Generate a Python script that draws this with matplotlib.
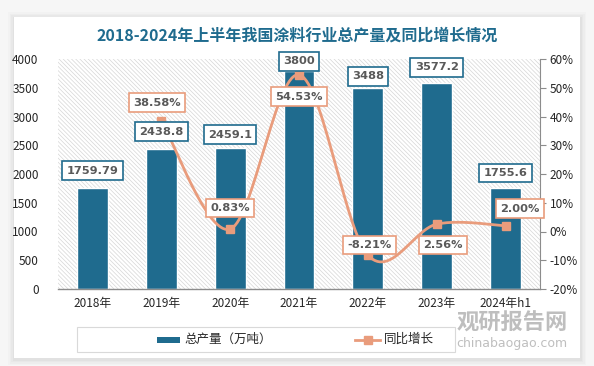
import numpy as np
import matplotlib
matplotlib.use("Agg")
import matplotlib.pyplot as plt
from matplotlib.patches import Rectangle
from matplotlib.lines import Line2D

plt.rcParams['font.family'] = ['Noto Sans CJK SC', 'DejaVu Sans']
plt.rcParams['hatch.linewidth'] = 0.5

categories = ['2018年', '2019年', '2020年', '2021年', '2022年', '2023年', '2024年h1']
production = [1759.79, 2438.8, 2459.1, 3800, 3488, 3577.2, 1755.6]
prod_labels = ['1759.79', '2438.8', '2459.1', '3800', '3488', '3577.2', '1755.6']
growth = [None, 38.58, 0.83, 54.53, -8.21, 2.56, 2.00]
growth_labels = ['', '38.58%', '0.83%', '54.53%', '-8.21%', '2.56%', '2.00%']
left_ticks = [0, 500, 1000, 1500, 2000, 2500, 3000, 3500, 4000]
right_ticks = [-20, -10, 0, 10, 20, 30, 40, 50, 60]
series_names = ['总产量（万吨）', '同比增长']

BAR = '#1F6B8E'
LINE = '#E99C7C'
TXT = '#595959'
TITLE = '#1F6B8E'

W, H = 594, 366
fig = plt.figure(figsize=(W / 100, H / 100), dpi=100)
fig.patch.set_facecolor('#F6F6F6')


def frect(x0, y0, w, h, **kw):
    """rectangle in figure pixels measured from top-left"""
    r = Rectangle((x0 / W, 1 - (y0 + h) / H), w / W, h / H, transform=fig.transFigure, **kw)
    fig.patches.append(r)
    return r


# card with soft shadow
for i, a in enumerate([0.04, 0.05, 0.06, 0.08]):
    d = (4 - i) * 1.5
    frect(14 - d, 17 - d + 1, 566 + 2 * d, 341 + 2 * d, facecolor='#9A9A9A', alpha=a,
          edgecolor='none', zorder=-5)
frect(14, 17, 566, 341, facecolor='white', edgecolor='none', zorder=-4)

ax = fig.add_axes([58 / W, 1 - 289 / H, 482 / W, 230 / H])
ax.patch.set_alpha(0)
x = np.arange(len(categories))
ax.set_xlim(-0.5, len(categories) - 0.5)
ax.set_ylim(0, 4000)

# hatched plot background
ax.add_patch(Rectangle((0, 0), 1, 1, transform=ax.transAxes, facecolor='white',
                       edgecolor='#D6D6D6', hatch='\\' * 8, linewidth=0, zorder=0))

ax.bar(x, production, width=0.45, color=BAR, edgecolor='white', linewidth=1.0, zorder=2)

for s in ['top', 'right', 'left']:
    ax.spines[s].set_visible(False)
ax.spines['bottom'].set_color('#8C8C8C')
ax.spines['bottom'].set_linewidth(1.0)
ax.set_xticks(x)
ax.set_xticklabels(categories, fontsize=8.5, color='#262626')
ax.tick_params(axis='x', length=0, pad=6)
ax.set_yticks(left_ticks)
ax.set_yticklabels([str(t) for t in left_ticks], fontsize=8.5, color='#262626')
ax.tick_params(axis='y', length=0, pad=14)

ax2 = ax.twinx()
ax2.set_ylim(-20, 60)
for s in ['top', 'left', 'bottom']:
    ax2.spines[s].set_visible(False)
ax2.spines['right'].set_color('#8C8C8C')
ax2.set_yticks(right_ticks)
ax2.set_yticklabels([f'{t}%' for t in right_ticks], fontsize=8.5, color='#262626')
ax2.tick_params(axis='y', length=4, color='#8C8C8C', pad=3, direction='out')

# smooth curve (Catmull-Rom rendering between data points)
gx = np.array([i for i, g in enumerate(growth) if g is not None], dtype=float)
gy = np.array([g for g in growth if g is not None], dtype=float)


def catmull(px, py, n=30):
    P = np.column_stack([px, py])
    P = np.vstack([P[0], P, P[-1]])
    out = []
    for i in range(1, len(P) - 2):
        p0, p1, p2, p3 = P[i - 1], P[i], P[i + 1], P[i + 2]
        t = np.linspace(0, 1, n)[:, None]
        c1 = p1 + (p2 - p0) / 6
        c2 = p2 - (p3 - p1) / 6
        seg = ((1 - t) ** 3) * p1 + 3 * ((1 - t) ** 2) * t * c1 + 3 * (1 - t) * t ** 2 * c2 + t ** 3 * p2
        out.append(seg)
    out = np.vstack(out)
    return out[:, 0], out[:, 1]


sx, sy = catmull(gx, gy)
ax2.plot(sx, sy, color=LINE, linewidth=2.0, zorder=3, solid_capstyle='round')
ax2.plot(gx, gy, linestyle='none', marker='s', markersize=6, color=LINE, zorder=4)


def boxed(data_ax, xv, yv, text, ec, dy_px, dx_px=0):
    # drawn on the top axes so boxes sit above the line
    ax2.annotate(text, xy=(xv, yv), xycoords=data_ax.transData, xytext=(dx_px, dy_px),
                 textcoords='offset pixels', ha='center', va='center', fontsize=8.2,
                 fontweight='bold', color=TXT, family=['DejaVu Sans'],
                 bbox=dict(boxstyle='square,pad=0.38', facecolor='white', edgecolor=ec, linewidth=1.2),
                 zorder=6, annotation_clip=False)


# bar labels (offsets in pixels, positive = up)
bar_dy = [17, 17, 13, 9, 12, 16, 15]
for i, (v, lab) in enumerate(zip(production, prod_labels)):
    boxed(ax, i, v, lab, BAR, bar_dy[i])

# line labels (dx, dy) in pixels, positive dy = up
line_off = {1: (-4, 18), 2: (0, 21), 3: (0, -22), 4: (2, 10), 5: (6, -21), 6: (14, 17)}
for i, g in enumerate(growth):
    if g is None:
        continue
    dx, dy = line_off[i]
    boxed(ax2, i, g, growth_labels[i], LINE, dy, dx)

ax2.set_zorder(ax.get_zorder() + 1)

# title
fig.text(297 / W, 1 - 36 / H, '2018-2024年上半年我国涂料行业总产量及同比增长情况',
         ha='center', va='center', fontsize=11.5, fontweight='bold', color=TITLE)

# legend (manual)
frect(77, 327, 378, 25, facecolor='white', edgecolor='#D9D9D9', linewidth=0.8, zorder=5)
frect(157, 336.5, 23, 6, facecolor=BAR, edgecolor='none', zorder=6)
fig.text(184 / W, 1 - 339.5 / H, series_names[0], ha='left', va='center', fontsize=9,
         color='#262626', zorder=6)
fig.lines.append(Line2D([355 / W, 380 / W], [1 - 339.5 / H] * 2, transform=fig.transFigure,
                        color=LINE, linewidth=2, zorder=6))
fig.lines.append(Line2D([367.5 / W], [1 - 339.5 / H], transform=fig.transFigure,
                        color=LINE, marker='s', markersize=6, zorder=6))
fig.text(384 / W, 1 - 339.5 / H, series_names[1], ha='left', va='center', fontsize=9,
         color='#262626', zorder=6)

# watermark
fig.text(512 / W, 1 - 323 / H, '观研报告网', ha='center', va='center', fontsize=16,
         fontweight='bold', color='#7F7F7F', alpha=0.5, zorder=7)
fig.text(512 / W, 1 - 343 / H, 'chinabaogao.com', ha='center', va='center', fontsize=9,
         color='#7F7F7F', alpha=0.5, family=['DejaVu Sans'], zorder=7)

fig.savefig('out.png', dpi=100)
